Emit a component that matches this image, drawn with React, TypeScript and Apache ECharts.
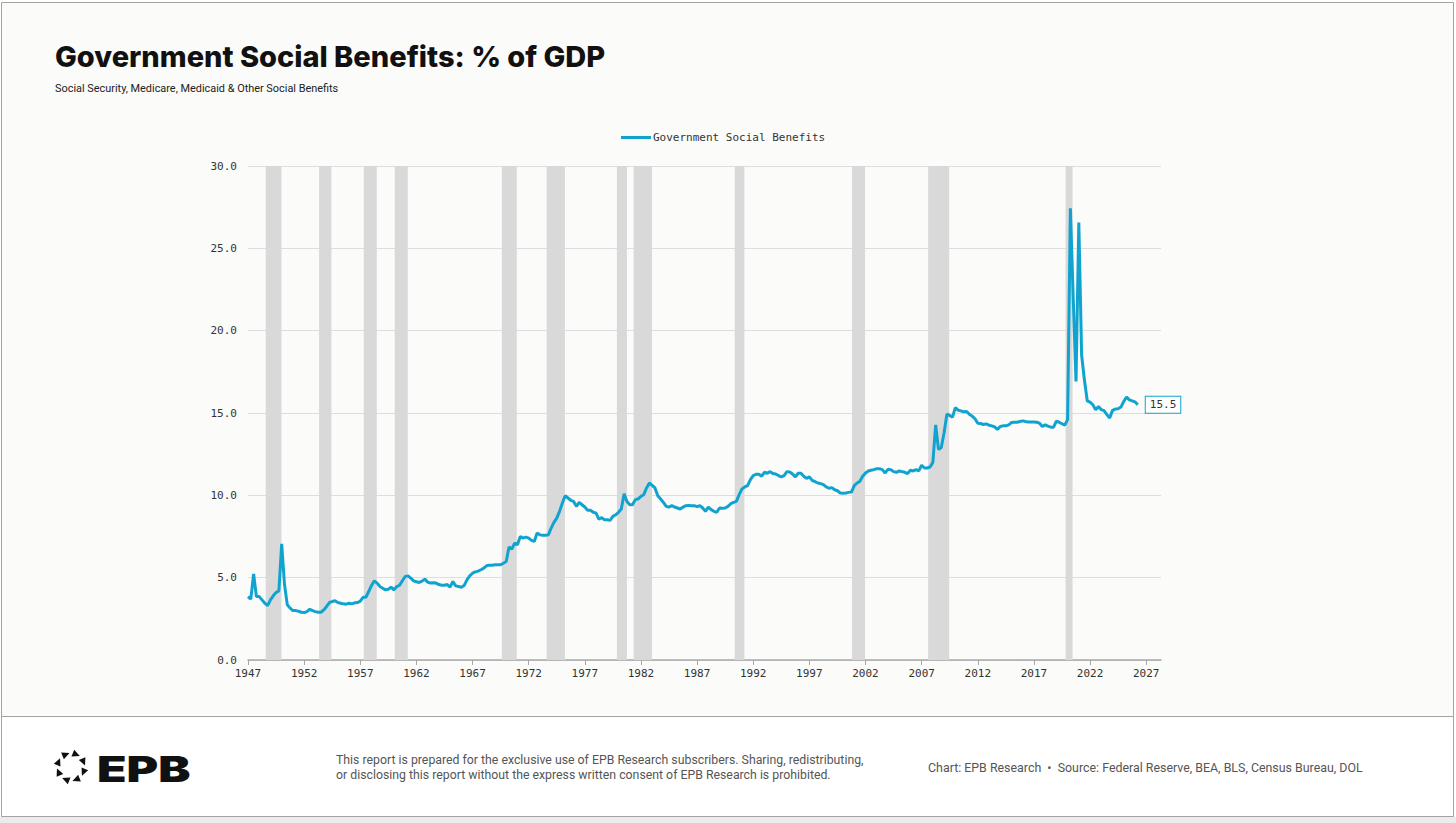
import React, { useEffect, useRef } from "react";
import * as echarts from "echarts";

const SERIES_NAME = "Government Social Benefits";
const START_YEAR = 1947;

// Quarterly values, % of GDP
const q1947to1959 = [
  3.85, 3.7, 5.23, 3.85,
  3.85, 3.65, 3.45, 3.3,
  3.65, 3.9, 4.1, 4.2,
  7.05, 4.6, 3.35, 3.15,
  3.0, 3.0, 2.96, 2.9,
  2.88, 2.94, 3.08, 3.0,
  2.94, 2.9, 2.9, 3.04,
  3.25, 3.49, 3.55, 3.6,
  3.49, 3.45, 3.41, 3.39,
  3.45, 3.41, 3.47, 3.49,
  3.57, 3.81, 3.81, 4.16,
  4.52, 4.81, 4.67, 4.46,
  4.36, 4.26, 4.3, 4.42,
];
const q1960to1969 = [
  4.26, 4.46, 4.54, 4.81,
  5.07, 5.11, 4.97, 4.81,
  4.75, 4.71, 4.79, 4.91,
  4.73, 4.67, 4.69, 4.67,
  4.58, 4.54, 4.54, 4.58,
  4.42, 4.77, 4.5, 4.46,
  4.42, 4.52, 4.87, 5.11,
  5.27, 5.35, 5.4, 5.48,
  5.58, 5.72, 5.76, 5.76,
  5.78, 5.78, 5.78, 5.88,
];
const q1970to1979 = [
  5.98, 6.86, 6.73, 7.1,
  7.0, 7.5, 7.4, 7.46,
  7.4, 7.26, 7.2, 7.71,
  7.6, 7.57, 7.57, 7.6,
  8.01, 8.36, 8.62, 9.03,
  9.53, 9.98, 9.84, 9.7,
  9.63, 9.33, 9.57, 9.43,
  9.29, 9.09, 9.09, 8.97,
  8.92, 8.56, 8.64, 8.52,
  8.52, 8.48, 8.72, 8.82,
];
const q1980to1989 = [
  8.97, 9.17, 10.1, 9.63,
  9.43, 9.43, 9.74, 9.78,
  9.94, 10.04, 10.45, 10.75,
  10.61, 10.45, 9.98, 9.78,
  9.57, 9.33, 9.29, 9.37,
  9.29, 9.23, 9.17, 9.29,
  9.37, 9.39, 9.37, 9.37,
  9.31, 9.37, 9.23, 9.03,
  9.29, 9.13, 9.03, 8.97,
  9.23, 9.21, 9.23, 9.33,
];
const q1990to1999 = [
  9.49, 9.57, 9.63, 10.04,
  10.39, 10.51, 10.59, 10.95,
  11.2, 11.28, 11.28, 11.16,
  11.4, 11.34, 11.44, 11.32,
  11.3, 11.2, 11.12, 11.2,
  11.44, 11.42, 11.3, 11.12,
  11.34, 11.34, 11.16, 11.03,
  11.12, 10.91, 10.83, 10.75,
  10.71, 10.65, 10.51, 10.43,
  10.47, 10.34, 10.28, 10.14,
];
const q2000to2009 = [
  10.12, 10.14, 10.18, 10.2,
  10.59, 10.75, 10.85, 11.16,
  11.36, 11.48, 11.52, 11.56,
  11.62, 11.62, 11.56, 11.36,
  11.58, 11.56, 11.44, 11.4,
  11.48, 11.44, 11.4, 11.32,
  11.52, 11.48, 11.56, 11.48,
  11.83, 11.66, 11.66, 11.72,
  12.0, 14.28, 12.79, 12.9,
  13.8, 14.93, 14.85, 14.75,
];
const q2010to2019 = [
  15.33, 15.17, 15.13, 15.07,
  15.09, 14.93, 14.81, 14.65,
  14.38, 14.36, 14.3, 14.34,
  14.26, 14.22, 14.16, 14.0,
  14.18, 14.22, 14.22, 14.28,
  14.42, 14.44, 14.44, 14.48,
  14.52, 14.48, 14.46, 14.46,
  14.46, 14.44, 14.38, 14.18,
  14.28, 14.2, 14.14, 14.14,
  14.5, 14.44, 14.35, 14.26,
];
const q2020to2026 = [
  14.6, 27.43, 22.0, 16.91,
  26.57, 18.52, 17.0, 15.74,
  15.66, 15.5, 15.2, 15.4,
  15.2, 15.14, 14.9, 14.7,
  15.16, 15.24, 15.26, 15.36,
  15.7, 15.97, 15.8, 15.74,
  15.68, 15.5,
];

const xTickYears = [
  1947, 1952, 1957, 1962, 1967, 1972, 1977, 1982, 1987,
  1992, 1997, 2002, 2007, 2012, 2017, 2022, 2027,
];

// Recession shading (decimal years)
const recessionStart = [1948.58, 1953.33, 1957.31, 1960.07, 1969.61, 1973.6, 1979.86, 1981.35, 1990.35, 2000.8, 2007.58, 2019.82];
const recessionEnd = [1949.98, 1954.43, 1958.47, 1961.23, 1970.94, 1975.23, 1980.75, 1982.98, 1991.21, 2001.96, 2009.45, 2020.44];

const TITLE = "Government Social Benefits: % of GDP";
const SUBTITLE = "Social Security, Medicare, Medicaid & Other Social Benefits";
const DISCLAIMER_1 = "This report is prepared for the exclusive use of EPB Research subscribers. Sharing, redistributing,";
const DISCLAIMER_2 = "or disclosing this report without the express written consent of EPB Research is prohibited.";
const SOURCE = "Chart: EPB Research  \u2022  Source: Federal Reserve, BEA, BLS, Census Bureau, DOL";

const LINE_COLOR = "#11a3d0";
const MONO = "'DejaVu Sans Mono', 'Liberation Mono', monospace";
const SANS = "Roboto, 'Noto Sans', sans-serif";

function logoTriangles(cx: number, cy: number, r: number) {
  const out: any[] = [];
  for (let k = 0; k < 8; k++) {
    const a = ((k * 45 + 22.5 - 90) * Math.PI) / 180;
    const px = cx + r * Math.cos(a);
    const py = cy + r * Math.sin(a);
    const tx = -Math.sin(a);
    const ty = Math.cos(a);
    const nx = Math.cos(a);
    const ny = Math.sin(a);
    const s = 3.6;
    out.push({
      type: "polygon",
      shape: {
        points: [
          [px + tx * s * 1.1, py + ty * s * 1.1],
          [px - tx * s + nx * s, py - ty * s + ny * s],
          [px - tx * s - nx * s, py - ty * s - ny * s],
        ],
      },
      style: { fill: "#111" },
    });
  }
  return out;
}

export default function App() {
  const ref = useRef<HTMLDivElement>(null);

  useEffect(() => {
    document.body.style.margin = "0";
    if (!ref.current) return;
    const chart = echarts.init(ref.current, undefined, { renderer: "svg" });

    const all = [
      ...q1947to1959,
      ...q1960to1969,
      ...q1970to1979,
      ...q1980to1989,
      ...q1990to1999,
      ...q2000to2009,
      ...q2010to2019,
      ...q2020to2026,
    ];
    const data = all.map((v, i) => [START_YEAR + i / 4, v]);

    const option: any = {
      animation: false,
      backgroundColor: "#ffffff",
      textStyle: { fontFamily: MONO },
      grid: { left: 248, right: 295, top: 166, bottom: 163, containLabel: false },
      legend: {
        left: 616,
        top: 127,
        icon: "rect",
        itemWidth: 30,
        itemHeight: 3,
        textStyle: { fontFamily: MONO, fontSize: 11, color: "#333", padding: [0, 0, 0, -3] },
        data: [SERIES_NAME],
      },
      xAxis: {
        type: "value",
        min: 1947,
        max: 2028.32,
        axisLine: { show: true, lineStyle: { color: "#a8a8a8", width: 1.5 } },
        axisTick: { show: true, length: 5, customValues: xTickYears, lineStyle: { color: "#a8a8a8" } },
        axisLabel: {
          customValues: xTickYears,
          formatter: (v: number) => String(Math.round(v)),
          fontFamily: MONO,
          fontSize: 11,
          color: "#333",
          margin: 8,
        },
        splitLine: { show: false },
      },
      yAxis: {
        type: "value",
        min: 0,
        max: 30,
        interval: 5,
        axisLine: { show: false },
        axisTick: { show: false },
        axisLabel: {
          formatter: (v: number) => v.toFixed(1),
          fontFamily: MONO,
          fontSize: 11,
          color: "#333",
          margin: 11,
        },
        splitLine: { lineStyle: { color: "#dedede", width: 1 } },
      },
      series: [
        {
          type: "line",
          name: SERIES_NAME,
          data,
          symbol: "none",
          showSymbol: false,
          lineStyle: { width: 3, color: LINE_COLOR },
          itemStyle: { color: LINE_COLOR },
          z: 5,
          endLabel: {
            show: true,
            formatter: (p: any) => Number(p.value[1]).toFixed(1),
            distance: 8,
            backgroundColor: "#ffffff",
            borderColor: LINE_COLOR,
            borderWidth: 1,
            padding: [3, 4, 2, 4],
            color: "#333",
            fontFamily: MONO,
            fontSize: 11,
          },
          markArea: {
            silent: true,
            itemStyle: { color: "#d9d9d9" },
            data: recessionStart.map((s, i) => [{ xAxis: s }, { xAxis: recessionEnd[i] }]),
          },
        },
      ],
      graphic: [
        {
          type: "rect",
          z: -100,
          shape: { x: 1.5, y: 2.5, width: 1452, height: 814 },
          style: { fill: "#fbfbf9", stroke: "#a3a3a3", lineWidth: 1 },
        },
        {
          type: "rect",
          z: -99,
          shape: { x: 1.5, y: 716.5, width: 1452, height: 100 },
          style: { fill: "#ffffff", stroke: "#a3a3a3", lineWidth: 1 },
        },
        {
          type: "rect",
          z: -99,
          shape: { x: 0, y: 817, width: 1456, height: 6 },
          style: { fill: "#ececec" },
        },
        {
          type: "text",
          style: {
            text: TITLE,
            x: 55,
            y: 71,
            textVerticalAlign: "bottom",
            font: "800 29px Inter, Roboto, sans-serif",
            fill: "#111",
          },
        },
        {
          type: "text",
          style: {
            text: SUBTITLE,
            x: 55,
            y: 88,
            textVerticalAlign: "middle",
            font: "10.9px " + SANS,
            fill: "#222",
          },
        },
        {
          type: "text",
          style: {
            text: DISCLAIMER_1,
            x: 336,
            y: 760,
            textVerticalAlign: "middle",
            font: "12.3px " + SANS,
            fill: "#555",
          },
        },
        {
          type: "text",
          style: {
            text: DISCLAIMER_2,
            x: 336,
            y: 775,
            textVerticalAlign: "middle",
            font: "12.3px " + SANS,
            fill: "#555",
          },
        },
        {
          type: "text",
          style: {
            text: SOURCE,
            x: 928,
            y: 767,
            textVerticalAlign: "middle",
            font: "12.4px " + SANS,
            fill: "#555",
          },
        },
        ...logoTriangles(71, 767, 13.5),
        {
          type: "text",
          x: 97,
          y: 769,
          scaleX: 1.38,
          style: {
            text: "EPB",
            x: 0,
            y: 0,
            textVerticalAlign: "middle",
            font: "900 35px Inter, Roboto, sans-serif",
            fill: "#111",
          },
        },
      ],
    };

    chart.setOption(option);
    return () => chart.dispose();
  }, []);

  return (
    <div
      ref={ref}
      style={{ position: "absolute", left: 0, top: 0, width: 1456, height: 823 }}
    />
  );
}
